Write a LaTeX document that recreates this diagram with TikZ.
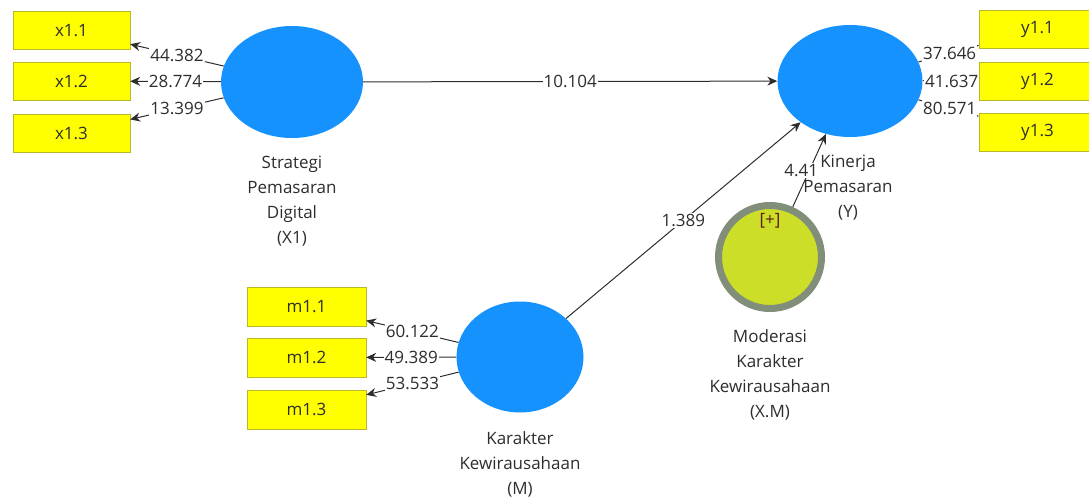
\documentclass[tikz,border=0pt]{standalone}
\usepackage{fontspec}
\setmainfont{Open Sans}
\usepackage{tikz}
\usetikzlibrary{arrows.meta,shapes.geometric}
\definecolor{lvblue}{RGB}{22,146,255}
\definecolor{indyellow}{RGB}{255,255,0}
\definecolor{indborder}{RGB}{185,185,40}
\definecolor{modgreen}{RGB}{205,222,40}
\definecolor{modgray}{RGB}{128,142,122}
\definecolor{txtgray}{RGB}{45,45,45}
\definecolor{arrowgray}{RGB}{45,45,45}

\begin{document}
\begin{tikzpicture}[x=1pt, y=-1pt,
  ind/.style={rectangle, draw=indborder, fill=indyellow,
              minimum width=117pt, minimum height=38pt, inner sep=0pt,
              font=\fontsize{17}{20}\selectfont, text=txtgray},
  lv/.style={ellipse, fill=lvblue, minimum width=142pt,
             minimum height=112pt, inner sep=0pt},
  lbl/.style={align=center, font=\fontsize{17}{25}\selectfont, text=txtgray},
  num/.style={fill=white, inner sep=1pt,
              font=\fontsize{17}{20}\selectfont, text=txtgray},
  arr/.style={-{Stealth[length=10pt,width=9pt]}, draw=arrowgray, line width=1pt},
]
\clip (0,0) rectangle (1089,500);

% Latent variables
\node[lv] (strat) at (292, 82) {};
\node[lv, minimum width=145pt] (kinerja) at (850, 81) {};
\node[lv, minimum width=127pt, minimum height=111pt] (karakter) at (520, 357) {};
\node[circle, fill=modgreen, draw=modgray, line width=7pt,
      minimum size=103pt, inner sep=0pt] (moderasi) at (770, 257) {};
\node[font=\fontsize{17}{20}\selectfont, text={rgb,255:red,95;green,30;blue,20}]
  (plus) at (770, 221) {[+]};

% Indicators
\node[ind] (x11) at (71.5, 30.5) {x1.1};
\node[ind] (x12) at (71.5, 81) {x1.2};
\node[ind] (x13) at (71.5, 133) {x1.3};
\node[ind] (y11) at (1037.5, 29) {y1.1};
\node[ind] (y12) at (1037.5, 81) {y1.2};
\node[ind] (y13) at (1037.5, 132.5) {y1.3};
\node[ind, minimum width=119pt, minimum height=39pt] (m11) at (306.5, 306.5) {m1.1};
\node[ind, minimum width=119pt, minimum height=39pt] (m12) at (306.5, 357.5) {m1.2};
\node[ind, minimum width=119pt, minimum height=39pt] (m13) at (306.5, 409.5) {m1.3};

% Construct names
\node[lbl] (stratlbl) at (292, 201) {Strategi\\Pemasaran\\Digital\\(X1)};
\node[lbl] (kinlbl) at (848, 188) {Kinerja\\Pemasaran\\(Y)};
\node[lbl] (karlbl) at (520, 464) {Karakter\\Kewirausahaan\\(M)};
\node[lbl] (modlbl) at (770, 375) {Moderasi\\Karakter\\Kewirausahaan\\(X.M)};

% Outer loadings
\draw[arr] (strat) -- node[num]{44.382} (x11);
\draw[arr] (strat) -- node[num]{28.774} (x12);
\draw[arr] (strat) -- node[num]{13.399} (x13);
\draw[arr] (kinerja) -- node[num, inner ysep=5pt, xshift=1pt]{37.646} (y11);
\draw[arr] (kinerja) -- node[num, inner ysep=5pt, xshift=1pt]{41.637} (y12);
\draw[arr] (kinerja) -- node[num, inner ysep=5pt, xshift=1pt]{80.571} (y13);
\draw[arr] (karakter) -- node[num]{60.122} (m11);
\draw[arr] (karakter) -- node[num]{49.389} (m12);
\draw[arr] (karakter) -- node[num]{53.533} (m13);

% Inner paths
\draw[arr] (strat) -- node[num]{10.104} (kinerja);
\draw[arr] (karakter) -- node[num]{1.389} (kinerja);
\draw[arr] (moderasi) -- node[num, xshift=-8pt]{4.41} (kinerja);
\end{tikzpicture}
\end{document}
